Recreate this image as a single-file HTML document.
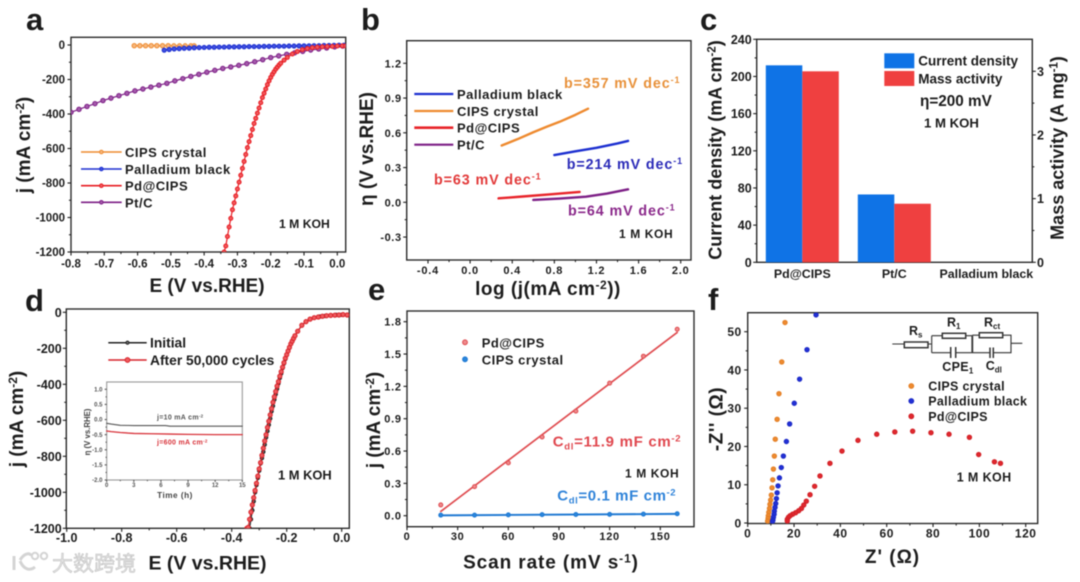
<!DOCTYPE html>
<html lang="en">
<head>
<meta charset="utf-8">
<title>Pd@CIPS electrochemical performance figure</title>
<style>
  html, body { margin: 0; padding: 0; background: #fff; width: 1080px; height: 582px; overflow: hidden; }
  #figure { display: block; filter: blur(0.6px); font-family: "Liberation Sans", "Noto Sans CJK SC", sans-serif; font-weight: bold; }
  #figure text { fill: #1c1c1c; }
  .frame { fill: none; stroke: #2b2b2b; stroke-width: 1.4; }
</style>
</head>
<body>
<svg id="figure" xmlns="http://www.w3.org/2000/svg" width="1080" height="582" viewBox="0 0 1080 582">
  <defs>
    <clipPath id="clip-a"><rect x="71" y="37.3" width="274.7" height="214.7"/></clipPath>
    <clipPath id="clip-d"><rect x="66.3" y="309" width="283" height="219.3"/></clipPath>
    <clipPath id="clip-f"><rect x="747.7" y="312.7" width="290" height="210.8"/></clipPath>
  </defs>

  <!-- Panel a -->
  <g id="panel-a">
    <text x="26" y="30" font-size="31">a</text>
    <rect class="frame" x="71" y="37.3" width="274.7" height="214.7"/>
    <text x="207" y="292" font-size="19" text-anchor="middle">E (V vs.RHE)</text>
    <text transform="translate(30 145) rotate(-90)" font-size="19" text-anchor="middle">j (mA cm<tspan dy="-6" font-size="12">-2</tspan><tspan dy="6">)</tspan></text>
    <text x="125" y="157" font-size="13" letter-spacing=".5">CIPS crystal</text>
    <text x="125" y="174" font-size="13" letter-spacing=".5">Palladium black</text>
    <text x="125" y="190.7" font-size="13" letter-spacing=".5">Pd@CIPS</text>
    <text x="125" y="207.3" font-size="13" letter-spacing=".5">Pt/C</text>
    <text x="279" y="228" font-size="12.2">1 M KOH</text>
  </g>

  <!-- Panel b -->
  <g id="panel-b">
    <text x="361" y="30" font-size="31">b</text>
    <rect class="frame" x="406.7" y="40.7" width="284.3" height="219.3"/>
    <text x="548" y="295" font-size="19" letter-spacing=".5" text-anchor="middle">log (j(mA cm<tspan dy="-6" font-size="12">-2</tspan><tspan dy="6">))</tspan></text>
    <text transform="translate(373 149) rotate(-90)" font-size="19" text-anchor="middle">η (V vs.RHE)</text>
    <text x="457" y="99" font-size="13" letter-spacing=".5">Palladium black</text>
    <text x="457" y="116" font-size="13" letter-spacing=".5">CIPS crystal</text>
    <text x="457" y="132.7" font-size="13" letter-spacing=".5">Pd@CIPS</text>
    <text x="457" y="149.7" font-size="13" letter-spacing=".5">Pt/C</text>
    <text x="564" y="88" font-size="14.3" letter-spacing=".9" style="fill:#e8913a">b=357 mV dec<tspan dy="-5" font-size="9">-1</tspan></text>
    <text x="566.7" y="169" font-size="14.3" letter-spacing=".9" style="fill:#2b2bb8">b=214 mV dec<tspan dy="-5" font-size="9">-1</tspan></text>
    <text x="434" y="184.3" font-size="14.3" letter-spacing=".9" style="fill:#e23a3a">b=63 mV dec<tspan dy="-5" font-size="9">-1</tspan></text>
    <text x="568" y="215.7" font-size="14.3" letter-spacing=".9" style="fill:#8b2a8b">b=64 mV dec<tspan dy="-5" font-size="9">-1</tspan></text>
    <text x="619" y="238" font-size="12" letter-spacing=".6">1 M KOH</text>
  </g>

  <!-- Panel c -->
  <g id="panel-c">
    <text x="700" y="30" font-size="31">c</text>
    <rect class="frame" x="756.7" y="39.3" width="275.6" height="223"/>
    <text transform="translate(721.7 150) rotate(-90)" font-size="18" text-anchor="middle">Current density (mA cm<tspan dy="-6" font-size="11.5">-2</tspan><tspan dy="6">)</tspan></text>
    <text transform="translate(1063.3 148) rotate(-90)" font-size="18" text-anchor="middle">Mass activity (A mg<tspan dy="-6" font-size="11.5">-1</tspan><tspan dy="6">)</tspan></text>
    <rect x="884.3" y="53.3" width="30" height="15" fill="#0f73e6"/>
    <rect x="884.3" y="71" width="30" height="15" fill="#ef4040"/>
    <text x="918.3" y="65.7" font-size="13.5">Current density</text>
    <text x="918.3" y="83.3" font-size="13.5">Mass activity</text>
    <text x="920" y="106" font-size="15.3">η=200 mV</text>
    <text x="924" y="127.3" font-size="13.2">1 M KOH</text>
  </g>

  <!-- Panel d -->
  <g id="panel-d">
    <text x="25" y="311" font-size="31">d</text>
    <rect class="frame" x="66.3" y="309" width="283" height="219.3"/>
    <text x="207.5" y="569.3" font-size="19.5" text-anchor="middle">E (V vs.RHE)</text>
    <text transform="translate(23 419) rotate(-90)" font-size="19" text-anchor="middle">j (mA cm<tspan dy="-6" font-size="12">-2</tspan><tspan dy="6">)</tspan></text>
    <text x="150" y="347.5" font-size="13.8">Initial</text>
    <text x="150" y="365" font-size="13.8">After 50,000 cycles</text>
    <text x="278" y="479.3" font-size="12.9">1 M KOH</text>
  </g>

  <!-- Inset of panel d -->
  <g id="panel-inset">
    <rect x="106.7" y="382" width="135.6" height="98" fill="none" stroke="#999" stroke-width="1.1"/>
    <text x="175" y="498" font-size="8.2" text-anchor="middle" letter-spacing=".5" style="fill:#444">Time (h)</text>
    <text transform="translate(90 432) rotate(-90)" font-size="7.8" text-anchor="middle" style="fill:#444">η (V vs.RHE)</text>
    <text x="157" y="419.3" font-size="7" letter-spacing=".3" style="fill:#555">j=10 mA cm<tspan dy="-2" font-size="4.5">-2</tspan></text>
    <text x="157" y="444.3" font-size="7" letter-spacing=".3" style="fill:#d8333a">j=600 mA cm<tspan dy="-2" font-size="4.5">-2</tspan></text>
  </g>

  <!-- Panel e -->
  <g id="panel-e">
    <text x="368" y="300" font-size="31">e</text>
    <rect class="frame" x="407" y="311" width="287" height="215.7"/>
    <text x="551" y="568.3" font-size="19" letter-spacing=".9" text-anchor="middle">Scan rate (mV s<tspan dy="-6" font-size="12">-1</tspan><tspan dy="6">)</tspan></text>
    <text transform="translate(380 420) rotate(-90)" font-size="19" text-anchor="middle">j (mA cm<tspan dy="-6" font-size="12">-2</tspan><tspan dy="6">)</tspan></text>
    <text x="481.7" y="347.3" font-size="13" letter-spacing=".5">Pd@CIPS</text>
    <text x="481.7" y="364.3" font-size="13" letter-spacing=".5">CIPS crystal</text>
    <text x="552.7" y="446.7" font-size="15" letter-spacing=".7" style="fill:#e0484f">C<tspan dy="3" font-size="9.5">dl</tspan><tspan dy="-3">=11.9 mF cm</tspan><tspan dy="-5" font-size="9.5">-2</tspan></text>
    <text x="625" y="477.7" font-size="12" letter-spacing=".6">1 M KOH</text>
    <text x="557.3" y="500.7" font-size="15" letter-spacing=".6" style="fill:#2f83d9">C<tspan dy="3" font-size="9.5">dl</tspan><tspan dy="-3">=0.1 mF cm</tspan><tspan dy="-5" font-size="9.5">-2</tspan></text>
  </g>

  <!-- Panel f -->
  <g id="panel-f">
    <text x="708" y="310" font-size="31">f</text>
    <rect class="frame" x="747.7" y="312.7" width="290" height="210.8"/>
    <text x="892.5" y="563" font-size="19" letter-spacing="1" text-anchor="middle">Z' (Ω)</text>
    <text transform="translate(722.7 419) rotate(-90)" font-size="19" letter-spacing=".5" text-anchor="middle">-Z'' (Ω)</text>
    <text x="928.3" y="390.5" font-size="12.5" letter-spacing=".3">CIPS crystal</text>
    <text x="928.3" y="405.5" font-size="12.5" letter-spacing=".3">Palladium black</text>
    <text x="928.3" y="420.8" font-size="12.5" letter-spacing=".3">Pd@CIPS</text>
    <text x="956.7" y="481.7" font-size="12.5" letter-spacing=".4">1 M KOH</text>
    <g fill="none" stroke="#333" stroke-width="1.1">
      <path d="M892.3 344H904.3M928 344H931.7M931.7 335.7V352.7M931.7 335.7H942.3M965.7 335.7H972.3M931.7 352.7H950.7M955.7 352.7H972.3M972.3 335.2H979.3M1002.7 335.2H1011V352.7H993.3M990 352.7H972.3M1011 343.3H1022.3"/>
      <path d="M972.3 335.7V352.7" stroke-width="1.8"/>
      <rect x="904.3" y="342" width="23.7" height="5.7" stroke-width="1.5" fill="#fff"/>
      <rect x="942.3" y="333.3" width="23.4" height="5" stroke-width="1.5" fill="#fff"/>
      <rect x="979.3" y="332.7" width="23.4" height="5" stroke-width="1.5" fill="#fff"/>
      <path d="M950.7 347V358M955.7 347V358M990 347.5V358M993.3 347.5V358" stroke-width="1.5"/>
    </g>
    <text x="909" y="335" font-size="12.5">R<tspan dy="2.5" font-size="8">s</tspan></text>
    <text x="947" y="326.7" font-size="12.5">R<tspan dy="2.5" font-size="8">1</tspan></text>
    <text x="984" y="326.7" font-size="12.5">R<tspan dy="2.5" font-size="8">ct</tspan></text>
    <text x="942.3" y="371" font-size="12.5" letter-spacing=".3">CPE<tspan dy="2.5" font-size="8">1</tspan></text>
    <text x="985.7" y="370" font-size="12.5">C<tspan dy="2.5" font-size="8">dl</tspan></text>
  </g>

  <!-- Watermark -->
  <g>
    <path d="M14 556V570M20 560C25 552 31 553 31 556M20 561C24 570 30 571 35 567" fill="none" stroke="#d4d4d4" stroke-width="3"/>
    <circle cx="35" cy="556" r="3.2" fill="none" stroke="#d4d4d4" stroke-width="2"/>
    <circle cx="44" cy="556" r="3.2" fill="none" stroke="#d4d4d4" stroke-width="2"/>
    <text x="52" y="571" font-size="21" font-weight="400" style="fill:#e2e2e2;stroke:#bdbdbd;stroke-width:.5;font-family:'Liberation Sans','Noto Sans CJK SC',sans-serif">大数跨境</text>
  </g>
</svg>

<script>
// ---- Panel a data ----
const aXTicks = [-0.8, -0.7, -0.6, -0.5, -0.4, -0.3, -0.2, -0.1, 0];
const aYTicks = [0, -200, -400, -600, -800, -1000, -1200];
const aCipsE = [-0.61, -0.593, -0.576, -0.559, -0.542, -0.525, -0.508, -0.491, -0.474, -0.457, -0.44, -0.43];
const aCipsJ = [-4, -4, -4, -4, -4, -4, -4, -5, -5, -5, -5, -5];
const aPdBlackE = [-0.52, -0.505, -0.49, -0.475, -0.46, -0.445, -0.43, -0.415, -0.4, -0.385, -0.37, -0.355, -0.34, -0.325, -0.31, -0.295, -0.28, -0.265, -0.25, -0.235, -0.22, -0.205, -0.19, -0.175, -0.16, -0.145, -0.13, -0.115, -0.1, -0.085, -0.07, -0.055, -0.04, -0.025, -0.01, 0.005, 0.02];
const aPdBlackJ = [-30, -26, -23, -21, -19, -18, -16, -15, -14, -13, -13, -12, -12, -11, -11, -10, -10, -9, -9, -9, -8, -8, -7, -7, -7, -6, -6, -5, -5, -5, -4, -4, -3, -3, -2, -1, -1];
const aPdCipsE = [-0.34, -0.335, -0.33, -0.325, -0.32, -0.315, -0.31, -0.305, -0.3, -0.295, -0.29, -0.285, -0.28, -0.275, -0.27, -0.265, -0.26, -0.255, -0.25, -0.245, -0.24, -0.235, -0.23, -0.225, -0.22, -0.215, -0.21, -0.205, -0.2, -0.195, -0.19, -0.185, -0.18, -0.175, -0.17, -0.16, -0.15, -0.135, -0.12, -0.105, -0.09, -0.075, -0.06, -0.045, -0.03, -0.015, 0, 0.015, 0.025];
const aPdCipsJ = [-1200, -1165, -1110, -1055, -1005, -955, -915, -875, -835, -795, -755, -715, -675, -635, -595, -560, -525, -490, -455, -425, -395, -365, -335, -305, -280, -255, -230, -208, -188, -170, -155, -140, -128, -116, -106, -88, -72, -52, -38, -27, -20, -15, -12, -10, -9, -8, -6, -5, -5];
const aPtCE = [-0.8, -0.776, -0.752, -0.728, -0.704, -0.68, -0.656, -0.632, -0.608, -0.584, -0.56, -0.536, -0.512, -0.488, -0.464, -0.44, -0.416, -0.392, -0.368, -0.344, -0.32, -0.296, -0.272, -0.248, -0.224, -0.2, -0.176, -0.152, -0.128, -0.104, -0.08, -0.056, -0.032, -0.008, 0.016];
const aPtCJ = [-390, -373, -356, -340, -322, -308, -294, -280, -266, -255, -244, -233, -222, -208, -195, -182, -170, -158, -147, -136, -127, -118, -108, -97, -85, -73, -63, -54, -45, -37, -29, -23, -17, -11, -6];

// ---- Panel b data ----
const bXTicks = [-0.4, 0, 0.4, 0.8, 1.2, 1.6, 2];
const bYTicks = [-0.3, 0, 0.3, 0.6, 0.9, 1.2];
const bCipsLog = [0.3, 0.45, 0.6, 0.73, 0.85, 1, 1.12];
const bCipsEta = [0.49, 0.545, 0.605, 0.653, 0.695, 0.755, 0.808];
const bPdBlackLog = [0.8, 1, 1.2, 1.4, 1.5];
const bPdBlackEta = [0.408, 0.44, 0.47, 0.508, 0.53];
const bPdCipsLog = [0.27, 0.5, 0.75, 1.04];
const bPdCipsEta = [0.034, 0.05, 0.068, 0.089];
const bPtCLog = [0.6, 0.85, 1.1, 1.3, 1.5];
const bPtCEta = [0.02, 0.032, 0.048, 0.075, 0.112];

// ---- Panel c data ----
const cCategories = ['Pd@CIPS', 'Pt/C', 'Palladium black'];
const cCurrentDensity = [212, 73, 0];
const cMassActivity = [3.0, 0.92, 0];
const cLeftTicks = [0, 40, 80, 120, 160, 200, 240];
const cRightTicks = [0, 1, 2, 3];

// ---- Panel d data ----
const dXTicks = [-1, -0.8, -0.6, -0.4, -0.2, 0];
const dYTicks = [0, -200, -400, -600, -800, -1000, -1200];
const dInitialE = [-0.335, -0.33, -0.325, -0.32, -0.315, -0.31, -0.305, -0.3, -0.295, -0.29, -0.285, -0.28, -0.275, -0.27, -0.265, -0.26, -0.255, -0.25, -0.245, -0.24, -0.235, -0.23, -0.225, -0.22, -0.215, -0.21, -0.205, -0.2, -0.19, -0.18, -0.17, -0.16, -0.145, -0.13, -0.115, -0.1, -0.08, -0.06, -0.04, -0.02, 0, 0.02];
const dInitialJ = [-1200, -1150, -1100, -1050, -1000, -960, -920, -880, -840, -810, -775, -735, -695, -660, -625, -590, -550, -520, -485, -455, -425, -395, -365, -340, -310, -285, -260, -238, -197, -162, -132, -106, -73, -53, -39, -30, -24, -20, -17, -15, -14, -14];
const dCycledE = [-0.345, -0.34, -0.335, -0.33, -0.325, -0.32, -0.315, -0.31, -0.305, -0.3, -0.295, -0.29, -0.285, -0.28, -0.275, -0.27, -0.265, -0.26, -0.255, -0.25, -0.245, -0.24, -0.235, -0.23, -0.225, -0.22, -0.215, -0.21, -0.205, -0.2, -0.195, -0.19, -0.185, -0.18, -0.175, -0.17, -0.16, -0.145, -0.13, -0.115, -0.1, -0.085, -0.07, -0.055, -0.04, -0.025, -0.01, 0.005, 0.02];
const dCycledJ = [-1200, -1195, -1150, -1110, -1070, -1030, -990, -950, -910, -870, -835, -795, -755, -715, -680, -640, -605, -570, -535, -500, -470, -440, -410, -385, -355, -330, -305, -280, -255, -235, -215, -195, -175, -160, -145, -130, -105, -72, -52, -38, -30, -26, -22, -19, -17, -16, -15, -13, -15];

// ---- Inset data ----
const insetXTicks = [0, 3, 6, 9, 12, 15];
const insetYTicks = [-2, -1.5, -1, -0.5, 0, 0.5, 1];
const insetHours10 = [0, 0.5, 1.5, 3, 5, 6.5, 7, 9, 12, 15];
const insetEta10 = [-0.126, -0.15, -0.19, -0.2, -0.2, -0.2, -0.22, -0.22, -0.22, -0.22];
const insetHours600 = [0, 0.5, 1.5, 3, 5, 7, 9, 12, 15];
const insetEta600 = [-0.38, -0.4, -0.43, -0.46, -0.47, -0.48, -0.49, -0.5, -0.5];

// ---- Panel e data ----
const eXTicks = [0, 30, 60, 90, 120, 150];
const eYTicks = [0, 0.3, 0.6, 0.9, 1.2, 1.5, 1.8];
const eScanRate = [20, 40, 60, 80, 100, 120, 140, 160];
const ePdCips = [0.10, 0.27, 0.49, 0.73, 0.97, 1.23, 1.48, 1.73];
const eCips = [0.005, 0.005, 0.008, 0.01, 0.011, 0.012, 0.015, 0.018];
const eFitRate = [20, 160];
const ePdCipsFit = [0.04, 1.70];
const eCipsFit = [0.003, 0.017];

// ---- Panel f data ----
const fXTicks = [0, 20, 40, 60, 80, 100, 120];
const fYTicks = [0, 10, 20, 30, 40, 50];
const fCipsRe = [16.1, 14.7, 13.5, 12.7, 11.9, 11.5, 11.1, 10.8, 10.5, 10.2, 9.9, 9.6, 9.4, 9.1, 8.9, 8.8, 8.6];
const fCipsIm = [52.4, 42.1, 33.8, 27.1, 21.9, 17.5, 14.1, 11.3, 9.2, 7.3, 6.0, 4.9, 3.8, 2.8, 1.9, 1.2, 0.5];
const fPdBlackRe = [29.5, 25.6, 22.4, 20.1, 18.1, 16.7, 15.4, 14.5, 13.7, 13.1, 12.7, 12.4, 12.1, 11.8, 11.5, 11.4, 11.1, 10.9, 10.7];
const fPdBlackIm = [54.4, 45.3, 37.6, 31.3, 25.9, 21.3, 17.5, 14.5, 11.8, 9.7, 7.9, 6.4, 5.1, 4.1, 3.1, 2.3, 1.5, 0.8, 0.4];
const fPdCipsRe = [109.1, 106.5, 99.7, 95.7, 86.9, 79.1, 71.2, 63.5, 55.7, 47.6, 40.7, 35.5, 31.2, 28.9, 26.9, 25.3, 24.2, 23.2, 22, 20.7, 19.4, 18.3, 17.6, 17.1, 17.1];
const fPdCipsIm = [15.6, 16.0, 17.9, 22.4, 23.2, 23.6, 24.0, 23.8, 23.2, 21.6, 18.8, 15.6, 12.3, 9.6, 7.4, 5.7, 4.7, 3.8, 3.2, 2.7, 2.3, 1.9, 1.5, 0.96, 0.5];

// ---- Helpers ----
const SVG_NS = 'http://www.w3.org/2000/svg';
function make(parent, tag, geometry) {
  const node = document.createElementNS(SVG_NS, tag);
  for (const key in geometry) node.setAttribute(key, geometry[key]);
  parent.appendChild(node);
  return node;
}
function linear(d0, d1, r0, r1) {
  return function (v) { return r0 + (v - d0) * (r1 - r0) / (d1 - d0); };
}
function midpoints(ticks) {
  const out = [];
  for (let i = 0; i + 1 < ticks.length; i++) out.push((ticks[i] + ticks[i + 1]) / 2);
  return out;
}
function drawXAxis(g, scale, ticks, digits, axisY, baseline, fontSize, spacing, color, tickLen) {
  ticks.forEach(function (t) {
    const tick = make(g, 'line', { x1: scale(t), x2: scale(t), y1: axisY, y2: axisY + tickLen, stroke: color, 'stroke-width': 1.1 });
    
    
    const label = make(g, 'text', { x: scale(t), y: baseline, 'font-size': fontSize, 'letter-spacing': spacing, 'text-anchor': 'middle' });
    
    
    label.style.fill = color;
    label.textContent = t.toFixed(digits);
  });
  midpoints(ticks).forEach(function (t) {
    const minor = make(g, 'line', { x1: scale(t), x2: scale(t), y1: axisY, y2: axisY + tickLen * 0.6, stroke: color, 'stroke-width': 1 });
    
    
  });
}
function drawYAxis(g, scale, ticks, digits, axisX, labelX, anchor, fontSize, spacing, color, tickLen) {
  const dir = anchor === 'end' ? -1 : 1;
  ticks.forEach(function (t) {
    const tick = make(g, 'line', { x1: axisX, x2: axisX + dir * tickLen, y1: scale(t), y2: scale(t), stroke: color, 'stroke-width': 1.1 });
    
    
    const label = make(g, 'text', { x: labelX, y: scale(t) + fontSize * 0.36, 'font-size': fontSize, 'letter-spacing': spacing, 'text-anchor': anchor });
    
    
    label.style.fill = color;
    label.textContent = t.toFixed(digits);
  });
  midpoints(ticks).forEach(function (t) {
    const minor = make(g, 'line', { x1: axisX, x2: axisX + dir * tickLen * 0.6, y1: scale(t), y2: scale(t), stroke: color, 'stroke-width': 1 });
    
    
  });
}
function drawLine(g, xs, ys, sx, sy, color, width, name) {
  const pts = xs.map(function (x, i) { return sx(x) + ',' + sy(ys[i]); }).join(' ');
  const line = make(g, 'polyline', { points: pts, fill: 'none', stroke: color, 'stroke-width': width, 'stroke-linejoin': 'round', 'stroke-linecap': 'round' });
  
  
  return line;
}
function drawPoints(g, xs, ys, sx, sy, radius, fill, stroke, name) {
  const group = make(g, 'g', {});
  
  
  xs.forEach(function (x, i) {
    const dot = make(group, 'circle', { cx: sx(x), cy: sy(ys[i]), r: radius, fill: fill, stroke: stroke, 'stroke-width': 1 });
    
    
  });
  return group;
}
function drawLegendLine(g, x1, x2, y, color, width, markerR, fill, name) {
  const line = make(g, 'line', { x1: x1, x2: x2, y1: y, y2: y, stroke: color, 'stroke-width': width });
  
  
  if (markerR > 0) {
    const dot = make(g, 'circle', { cx: (x1 + x2) / 2, cy: y, r: markerR, fill: fill, stroke: color, 'stroke-width': 1 });
    
    
  }
}
function clipped(g, id) {
  const sub = make(g, 'g', { 'clip-path': 'url(#' + id + ')' });
  
  
  return sub;
}

const ORANGE = '#ee8a2f', BLUE = '#1c2fd0', RED = '#e81c22', PURPLE = '#7d1f86';

// ---- Panel a ----
(function () {
  const g = document.getElementById('panel-a');
  const sx = linear(-0.8, 0, 71, 337.3);
  const sy = linear(0, -1200, 45, 252);
  drawXAxis(g, sx, aXTicks, 1, 252, 267.5, 11.5, 0, '#1c1c1c', 3.5);
  drawYAxis(g, sy, aYTicks, 0, 71, 65, 'end', 11.5, 0, '#1c1c1c', 3.5);
  const p = clipped(g, 'clip-a');
  drawLine(p, aCipsE, aCipsJ, sx, sy, ORANGE, 1.2, 'cips-crystal-line');
  drawPoints(p, aCipsE, aCipsJ, sx, sy, 2.2, '#f6b77d', ORANGE, 'cips-crystal-series');
  drawLine(p, aPtCE, aPtCJ, sx, sy, PURPLE, 1.2, 'pt-c-line');
  drawPoints(p, aPtCE, aPtCJ, sx, sy, 2.2, '#a45aab', PURPLE, 'pt-c-series');
  drawLine(p, aPdBlackE, aPdBlackJ, sx, sy, BLUE, 1.2, 'palladium-black-line');
  drawPoints(p, aPdBlackE, aPdBlackJ, sx, sy, 2.1, '#3f50e0', BLUE, 'palladium-black-series');
  drawLine(p, aPdCipsE, aPdCipsJ, sx, sy, RED, 1.2, 'pd-cips-line');
  drawPoints(p, aPdCipsE, aPdCipsJ, sx, sy, 2, '#f0585c', RED, 'pd-cips-series');
  drawLegendLine(g, 81, 121.7, 152, ORANGE, 1.6, 1.8, '#f6b77d', 'legend-line-cips-crystal');
  drawLegendLine(g, 81, 121.7, 169, BLUE, 1.6, 1.8, '#3f50e0', 'legend-line-palladium-black');
  drawLegendLine(g, 81, 121.7, 185.7, RED, 1.6, 1.8, '#f0585c', 'legend-line-pd-cips');
  drawLegendLine(g, 81, 121.7, 202.3, PURPLE, 1.6, 1.8, '#a45aab', 'legend-line-pt-c');
})();

// ---- Panel b ----
(function () {
  const g = document.getElementById('panel-b');
  const sx = linear(-0.4, 2, 428, 680.7);
  const sy = linear(0, 1.2, 202.3, 63.3);
  drawXAxis(g, sx, bXTicks, 1, 260, 274, 11, 0.8, '#1c1c1c', 3.5);
  drawYAxis(g, sy, bYTicks, 1, 406.7, 401.7, 'end', 11, 0.6, '#1c1c1c', 3.5);
  drawLine(g, bCipsLog, bCipsEta, sx, sy, '#ee8a2f', 2.4, 'cips-crystal-tafel-line');
  drawLine(g, bPdBlackLog, bPdBlackEta, sx, sy, '#1c2fd0', 2.4, 'palladium-black-tafel-line');
  drawLine(g, bPtCLog, bPtCEta, sx, sy, '#7d1f86', 2.4, 'pt-c-tafel-line');
  drawLine(g, bPdCipsLog, bPdCipsEta, sx, sy, '#e8242a', 2.4, 'pd-cips-tafel-line');
  drawLegendLine(g, 414.3, 453.3, 94, '#1c2fd0', 2.2, 0, '', 'legend-line-palladium-black');
  drawLegendLine(g, 414.3, 453.3, 111, '#ee8a2f', 2.2, 0, '', 'legend-line-cips-crystal');
  drawLegendLine(g, 414.3, 453.3, 127.7, '#e8242a', 2.6, 0, '', 'legend-line-pd-cips');
  drawLegendLine(g, 414.3, 453.3, 144.7, '#7d1f86', 2.2, 0, '', 'legend-line-pt-c');
})();

// ---- Panel c ----
(function () {
  const g = document.getElementById('panel-c');
  const sL = linear(0, 240, 262.3, 39.3);
  const sR = linear(0, 3, 262.3, 71.3);
  const center = linear(0, 1, 802.3, 894.3);
  const barW = 36.5;
  drawYAxis(g, sL, cLeftTicks, 0, 756.7, 751.7, 'end', 12.5, 0, '#1c1c1c', 3.5);
  drawYAxis(g, sR, cRightTicks, 0, 1032.3, 1037, 'start', 12.5, 0, '#1c1c1c', 3.5);
  cCategories.forEach(function (name, i) {
    const c = center(i);
    const left = make(g, 'rect', { x: c - barW, y: sL(cCurrentDensity[i]), width: barW, height: sL(0) - sL(cCurrentDensity[i]), fill: '#0f73e6' });
    
    
    const right = make(g, 'rect', { x: c, y: sR(cMassActivity[i]), width: barW, height: sR(0) - sR(cMassActivity[i]), fill: '#ef4040' });
    
    
    const label = make(g, 'text', { x: c, y: 278, 'font-size': 12.4, 'text-anchor': 'middle' });
    
    
    label.textContent = name;
  });
})();

// ---- Panel d ----
(function () {
  const g = document.getElementById('panel-d');
  const sx = linear(-1, 0, 66.7, 341.7);
  const sy = linear(0, -1200, 312.3, 528.3);
  drawXAxis(g, sx, dXTicks, 1, 528.3, 542, 12.5, 0, '#1c1c1c', 3.5);
  drawYAxis(g, sy, dYTicks, 0, 66.3, 61.7, 'end', 12.5, 0, '#1c1c1c', 3.5);
  const p = clipped(g, 'clip-d');
  drawLine(p, dInitialE, dInitialJ, sx, sy, '#222', 1.2, 'initial-line');
  drawPoints(p, dInitialE, dInitialJ, sx, sy, 1.7, '#666', '#1a1a1a', 'initial-series');
  drawLine(p, dCycledE, dCycledJ, sx, sy, '#d8232a', 1.2, 'after-cycles-line');
  drawPoints(p, dCycledE, dCycledJ, sx, sy, 2.1, '#ee5a5e', '#d8232a', 'after-cycles-series');
  drawLegendLine(g, 108.3, 146.7, 342.7, '#222', 1.5, 1.6, '#666', 'legend-line-initial');
  drawLegendLine(g, 108.3, 146.7, 360, '#d8232a', 1.5, 2.4, '#ee5a5e', 'legend-line-after-cycles');

  const inset = document.getElementById('panel-inset');
  g.parentNode.appendChild(inset);
  const ix = linear(0, 15, 106.7, 242.3);
  const iy = linear(1, -2, 389.3, 480);
  drawXAxis(inset, ix, insetXTicks, 0, 480, 487, 6, 0, '#555', 2);
  drawYAxis(inset, iy, insetYTicks, 1, 106.7, 102.5, 'end', 6, 0, '#555', 2);
  drawLine(inset, insetHours10, insetEta10, ix, iy, '#555', 1.1, 'inset-line-10-ma');
  drawLine(inset, insetHours600, insetEta600, ix, iy, '#d8333a', 1.3, 'inset-line-600-ma');
})();

// ---- Panel e ----
(function () {
  const g = document.getElementById('panel-e');
  const sx = linear(0, 150, 407, 660.3);
  const sy = linear(0, 1.8, 515.7, 321.7);
  drawXAxis(g, sx, eXTicks, 0, 526.7, 540, 11, 0.7, '#1c1c1c', 3.5);
  drawYAxis(g, sy, eYTicks, 1, 407, 401.7, 'end', 11, 0.7, '#1c1c1c', 3.5);
  drawLine(g, eFitRate, ePdCipsFit, sx, sy, '#df4b4f', 1.7, 'pd-cips-fit-line');
  drawPoints(g, eScanRate, ePdCips, sx, sy, 2, '#ee8a8c', '#df4b4f', 'pd-cips-series');
  drawLine(g, eFitRate, eCipsFit, sx, sy, '#1e78d2', 1.9, 'cips-crystal-fit-line');
  drawPoints(g, eScanRate, eCips, sx, sy, 2, '#2a86dc', '#1e78d2', 'cips-crystal-series');
  const legendA = make(g, 'circle', { cx: 465, cy: 342.3, r: 2.4, fill: '#ee8a8c', stroke: '#df4b4f' });
  
  
  const legendB = make(g, 'circle', { cx: 465, cy: 359.3, r: 2.4, fill: '#2a86dc', stroke: '#1e78d2' });
  
  
})();

// ---- Panel f ----
(function () {
  const g = document.getElementById('panel-f');
  const sx = linear(0, 120, 747.7, 1025.7);
  const sy = linear(0, 50, 523, 331.7);
  drawXAxis(g, sx, fXTicks, 0, 523.5, 537.3, 12, 0.5, '#1c1c1c', 3.5);
  drawYAxis(g, sy, fYTicks, 0, 747.7, 741.7, 'end', 12, 0.5, '#1c1c1c', 3.5);
  const p = clipped(g, 'clip-f');
  drawPoints(p, fCipsRe, fCipsIm, sx, sy, 2.2, '#ee8a2f', '#e27f26', 'cips-crystal-series');
  drawPoints(p, fPdBlackRe, fPdBlackIm, sx, sy, 2.2, '#2230d6', '#1c2ac4', 'palladium-black-series');
  drawPoints(p, fPdCipsRe, fPdCipsIm, sx, sy, 2.2, '#e0282e', '#d02026', 'pd-cips-series');
  const legendA = make(g, 'circle', { cx: 911.3, cy: 386, r: 2.4, fill: '#ee8a2f', stroke: '#e27f26' });
  
  
  const legendB = make(g, 'circle', { cx: 911.3, cy: 401, r: 2.4, fill: '#2230d6', stroke: '#1c2ac4' });
  
  
  const legendC = make(g, 'circle', { cx: 911.3, cy: 416.3, r: 2.4, fill: '#e0282e', stroke: '#d02026' });
  
  
})();
</script>
</body>
</html>
